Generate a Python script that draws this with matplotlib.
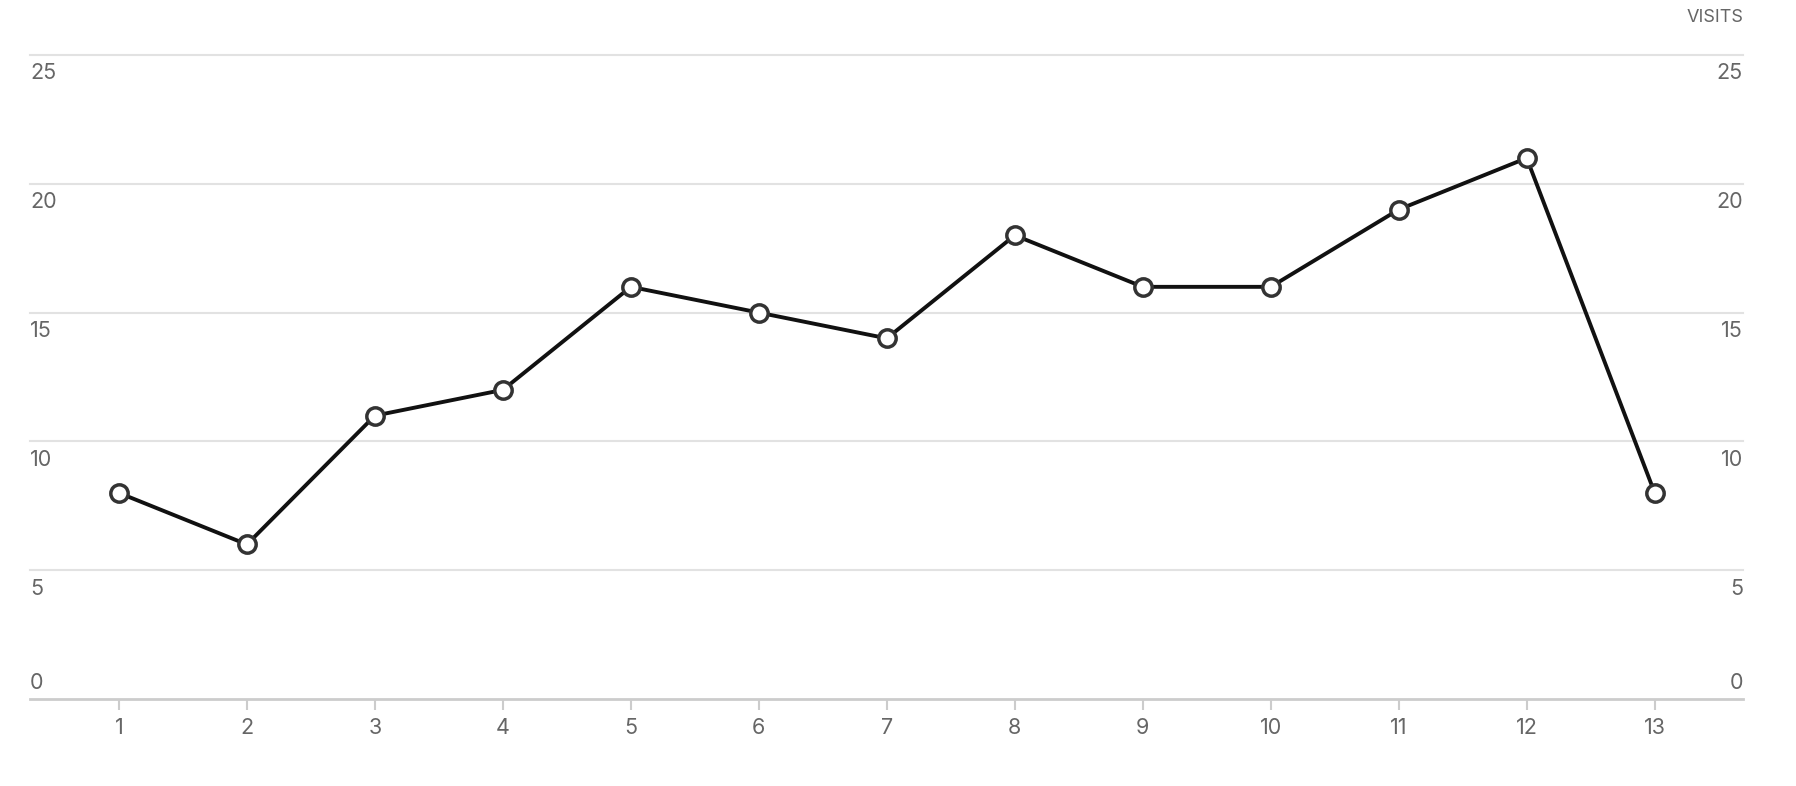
import matplotlib
matplotlib.use("Agg")
import matplotlib.pyplot as plt

days = [1, 2, 3, 4, 5, 6, 7, 8, 9, 10, 11, 12, 13]
visits = [8, 6, 11, 12, 16, 15, 14, 18, 16, 16, 19, 21, 8]
y_ticks = [0, 5, 10, 15, 20, 25]

plt.rcParams['font.family'] = ['Inter', 'DejaVu Sans']

W, H = 1796, 786
fig = plt.figure(figsize=(W / 100, H / 100), dpi=100)
left, right, bottom, top = 30, 1743, 699, 55
ax = fig.add_axes([left / W, 1 - bottom / H, (right - left) / W, (bottom - top) / H])

ax.set_xlim(0.305, 13.69)
ax.set_ylim(0, 25)

# gridlines
for v in y_ticks[1:]:
    ax.axhline(v, color='#e2e2e2', lw=1.5, zorder=1, clip_on=False)
ax.axhline(0, color='#cccccc', lw=2, zorder=1, clip_on=False)

ax.plot(days, visits, color='#111111', lw=2.8, zorder=3,
        marker='o', markersize=12.5, markerfacecolor='white',
        markeredgecolor='#333333', markeredgewidth=2.5)

for s in ax.spines.values():
    s.set_visible(False)
ax.set_yticks([])
ax.set_xticks(days)
ax.set_xticklabels([str(d) for d in days])
ax.tick_params(axis='x', length=8, width=1.5, color='#cccccc', pad=6,
               labelsize=15.5, labelcolor='#666666')

# y labels sit just under each gridline (the 0 just above), on both sides
for v in y_ticks:
    dy, va = (4, 'bottom') if v == 0 else (-6, 'top')
    for xf, ha in ((0, 'left'), (1, 'right')):
        ax.annotate(str(v), xy=(xf, v), xycoords=('axes fraction', 'data'),
                    xytext=(0, dy), textcoords='offset points',
                    ha=ha, va=va, fontsize=15.5, color='#666666')

fig.text(right / W, 1 - 18 / H, 'VISITS', ha='right', va='center',
         fontsize=13, color='#666666')

fig.savefig('out.png', dpi=100, facecolor='white')
